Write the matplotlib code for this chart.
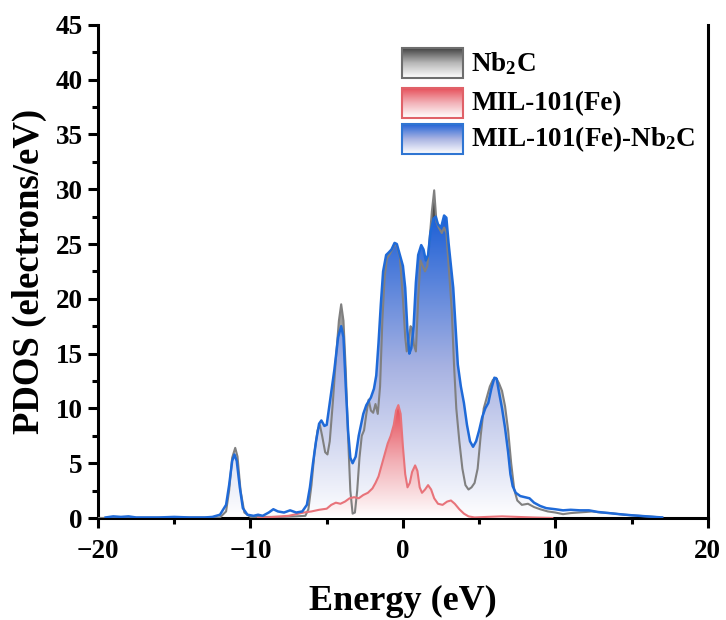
import numpy as np
import matplotlib
matplotlib.use('Agg')
import matplotlib.pyplot as plt
from matplotlib.colors import LinearSegmentedColormap
from matplotlib.patches import Polygon, Rectangle
from matplotlib.ticker import MultipleLocator

plt.rcParams['font.family'] = ['Liberation Serif', 'DejaVu Serif']
plt.rcParams['font.weight'] = 'bold'
plt.rcParams['mathtext.fontset'] = 'custom'
plt.rcParams['mathtext.rm'] = 'Liberation Serif:bold'
plt.rcParams['mathtext.default'] = 'rm'

# Nb2C
nb_x = [-20.0, -12.0, -11.6, -11.4, -11.2, -11.0, -10.85, -10.65, -10.4, -10.0, -8.0, -7.0, -6.4,
        -6.2, -6.0, -5.8, -5.6, -5.45, -5.3, -5.1, -4.95, -4.8, -4.6, -4.4, -4.2, -4.05, -3.9,
        -3.75, -3.6, -3.45, -3.3, -3.15, -3.0, -2.85, -2.7, -2.55, -2.4, -2.25, -2.1, -1.95,
        -1.8, -1.65, -1.5, -1.35, -1.2, -1.05, -0.9, -0.7, -0.55, -0.4, -0.2, 0.0, 0.15, 0.25,
        0.4, 0.5, 0.6, 0.72, 0.85, 1.0, 1.15, 1.3, 1.45, 1.6, 1.75, 1.9, 2.05, 2.2, 2.35, 2.55,
        2.7, 2.85, 3.0, 3.2, 3.35, 3.5, 3.7, 3.9, 4.1, 4.3, 4.5, 4.7, 4.9, 5.1, 5.3, 5.5, 5.7,
        5.9, 6.1, 6.3, 6.5, 6.7, 6.9, 7.1, 7.3, 7.5, 7.8, 8.2, 8.6, 9.0, 9.5, 10.0, 10.5, 11.0,
        11.5, 12.0, 12.4, 13.0, 13.6, 14.5, 15.5, 16.5, 17.0]
nb_y = [0.0, 0.05, 0.6, 2.5, 5.5, 6.4, 5.6, 2.5, 0.5, 0.1, 0.1, 0.15, 0.2,
        0.8, 3.0, 6.0, 8.0, 8.5, 7.5, 6.0, 5.8, 7.0, 10.5, 14.5, 18.0, 19.5, 18.0,
        13.5, 7.5, 2.5, 0.4, 0.5, 2.5, 5.5, 7.5, 8.0, 9.5, 10.8, 9.8, 9.6,
        10.4, 9.5, 12.0, 18.0, 22.0, 23.7, 24.0, 24.5, 25.0, 24.8, 23.8, 20.0, 16.5, 15.2,
        16.5, 17.5, 17.3, 15.8, 15.2, 20.0, 23.5, 23.0, 22.5, 23.0, 25.5, 28.0, 29.9, 27.0, 26.5, 26.0,
        26.5, 26.0, 23.0, 19.0, 14.0, 10.0, 7.0, 4.5, 3.0, 2.6, 2.8, 3.2, 4.5, 7.5, 10.0, 11.0, 12.0,
        12.6, 12.8, 12.3, 11.6, 10.2, 8.0, 5.0, 2.6, 1.6, 1.2, 1.3, 1.0, 0.8, 0.6, 0.5, 0.35, 0.45,
        0.5, 0.55, 0.6, 0.5, 0.45, 0.3, 0.2, 0.1, 0.05]

# MIL-101(Fe)
mil_x = [-9.5, -9.0, -8.5, -8.0, -7.5, -7.0, -6.5, -6.0, -5.5, -5.0, -4.7, -4.4, -4.1, -3.8, -3.5,
         -3.2, -2.9, -2.6, -2.3, -2.0, -1.8, -1.6, -1.4, -1.2, -1.0, -0.8, -0.6, -0.45, -0.3,
         -0.15, 0.0, 0.15, 0.3, 0.45, 0.6, 0.8, 0.95, 1.1, 1.25, 1.45, 1.65, 1.85, 2.05, 2.3,
         2.6, 2.9, 3.15, 3.4, 3.7, 4.0, 4.3, 4.7, 5.5, 6.5, 7.5, 8.5, 9.8]
mil_y = [0.0, 0.05, 0.1, 0.15, 0.2, 0.35, 0.5, 0.6, 0.75, 0.85, 1.2, 1.4, 1.3, 1.5, 1.8,
         1.9, 1.8, 2.1, 2.3, 2.7, 3.2, 3.8, 4.8, 5.8, 6.8, 7.5, 8.5, 9.8, 10.3,
         9.5, 6.5, 4.0, 2.8, 3.2, 4.2, 4.8, 4.3, 2.8, 2.3, 2.6, 3.0, 2.6, 1.8, 1.3,
         1.2, 1.5, 1.6, 1.3, 0.8, 0.4, 0.15, 0.05, 0.1, 0.15, 0.1, 0.05, 0.0]

# MIL-101(Fe)-Nb2C
hyb_x = [-19.5, -19.0, -18.5, -18.0, -17.5, -16.0, -15.0, -14.0, -13.0, -12.5, -12.0, -11.6, -11.4,
         -11.2, -11.05, -10.9, -10.7, -10.5, -10.2, -9.8, -9.5, -9.2, -8.8, -8.5, -8.2, -7.8,
         -7.4, -7.0, -6.6, -6.3, -6.1, -5.9, -5.7, -5.5, -5.35, -5.15, -5.0, -4.8, -4.5, -4.25,
         -4.05, -3.9, -3.75, -3.6, -3.45, -3.3, -3.1, -2.9, -2.6, -2.4, -2.1, -1.9, -1.75, -1.6,
         -1.45, -1.3, -1.1, -0.95, -0.75, -0.55, -0.4, -0.2, 0.0, 0.15, 0.3, 0.42, 0.55, 0.7,
         0.85, 1.0, 1.2, 1.35, 1.5, 1.65, 1.8, 2.0, 2.15, 2.3, 2.5, 2.7, 2.85, 3.0, 3.15, 3.3,
         3.45, 3.6, 3.8, 4.0, 4.2, 4.4, 4.6, 4.8, 5.0, 5.2, 5.4, 5.6, 5.8, 6.0, 6.15, 6.3, 6.5,
         6.7, 6.9, 7.05, 7.2, 7.4, 7.7, 8.0, 8.3, 8.6, 9.0, 9.4, 10.0, 10.5, 11.0, 11.6, 12.2,
         12.8, 13.5, 14.2, 15.0, 16.0, 17.0]
hyb_y = [0.05, 0.15, 0.1, 0.15, 0.05, 0.05, 0.1, 0.05, 0.05, 0.1, 0.3, 1.2, 3.0,
         5.2, 5.8, 5.2, 2.8, 0.9, 0.3, 0.2, 0.3, 0.2, 0.5, 0.8, 0.6, 0.5,
         0.7, 0.5, 0.6, 1.2, 2.8, 5.0, 7.0, 8.6, 8.9, 8.4, 8.5, 10.5, 13.5, 16.5,
         17.5, 16.5, 12.0, 8.0, 5.5, 5.0, 5.6, 7.5, 9.5, 10.3, 11.0, 11.8, 13.0, 16.0,
         19.5, 22.5, 24.0, 24.2, 24.5, 25.1, 25.0, 24.0, 23.0, 21.0, 17.0, 15.0, 15.5, 17.5,
         21.5, 24.0, 24.9, 24.5, 23.5, 24.0, 26.0, 27.3, 27.5, 26.8, 26.5, 27.6, 27.4, 25.0, 23.0, 21.0,
         17.5, 14.0, 12.0, 10.5, 8.5, 7.0, 6.5, 7.0, 8.0, 9.2, 10.0, 10.5, 11.8, 12.8, 12.7, 11.5, 10.0,
         8.2, 6.0, 4.0, 2.9, 2.3, 2.0, 1.9, 1.8, 1.4, 1.1, 0.9, 0.8, 0.7, 0.75, 0.7, 0.7,
         0.55, 0.45, 0.35, 0.25, 0.15, 0.05]

labels = [r'Nb$_2$C', 'MIL-101(Fe)', r'MIL-101(Fe)-Nb$_2$C']


def grad_fill(ax, x, y, colors, z):
    x = np.asarray(x)
    y = np.asarray(y)
    verts = np.vstack([np.column_stack([x, y]), [[x[-1], 0], [x[0], 0]]])
    patch = Polygon(verts, closed=True, facecolor='none', edgecolor='none')
    ax.add_patch(patch)
    cmap = LinearSegmentedColormap.from_list('g', colors)
    grad = np.linspace(0, 1, 256).reshape(-1, 1)
    im = ax.imshow(grad, cmap=cmap, origin='lower', aspect='auto',
                   extent=[x.min(), x.max(), 0, y.max()], zorder=z)
    im.set_clip_path(patch)


fig = plt.figure(figsize=(7.26, 6.2), dpi=100)
ax = fig.add_axes([0.135, 0.1645, 0.84, 0.7955])

gray_c = ['#ffffff', '#b5b5b5', '#3c3c3c']
red_c = ['#ffffff', '#f2b0b6', '#e64a55']
blue_c = ['#ffffff', '#a7b2e2', '#1c5fd6']

grad_fill(ax, nb_x, nb_y, gray_c, 1)
grad_fill(ax, hyb_x, hyb_y, blue_c, 2)
grad_fill(ax, mil_x, mil_y, red_c, 3)

ax.plot(nb_x, nb_y, color='#808080', lw=1.5, zorder=4)
ax.plot(mil_x, mil_y, color='#e8737a', lw=1.5, zorder=5)
ax.plot(hyb_x, hyb_y, color='#1f6ad8', lw=1.8, zorder=6)

# legend drawn by hand with gradient swatches
leg_y = [0.892, 0.811, 0.738]
edge = ['#6e6e6e', '#e06168', '#2f75d2']
for yy, cols, ec, lab in zip(leg_y, [gray_c, red_c, blue_c], edge, labels):
    cmap = LinearSegmentedColormap.from_list('l', cols)
    grad = np.linspace(0, 1, 64).reshape(-1, 1)
    ax.imshow(grad, cmap=cmap, origin='lower', aspect='auto',
              extent=[0.498, 0.598, yy, yy + 0.061], transform=ax.transAxes, zorder=7)
    ax.add_patch(Rectangle((0.498, yy), 0.1, 0.061, transform=ax.transAxes,
                           facecolor='none', edgecolor=ec, lw=1.5, zorder=8))
    ax.text(0.612, yy + 0.03, lab, transform=ax.transAxes, fontsize=19.5,
            fontweight='bold', va='center', ha='left', zorder=8)

ax.set_xlim(-20, 20)
ax.set_ylim(0, 45)
ax.xaxis.set_major_locator(MultipleLocator(10))
ax.xaxis.set_minor_locator(MultipleLocator(5))
ax.yaxis.set_major_locator(MultipleLocator(5))
ax.yaxis.set_minor_locator(MultipleLocator(2.5))

ax.spines['top'].set_visible(False)
for s in ['left', 'bottom', 'right']:
    ax.spines[s].set_linewidth(2.2)
ax.tick_params(which='major', direction='out', length=7, width=2.2, labelsize=19.5, pad=4)
ax.tick_params(axis='x', which='major', pad=8)
ax.tick_params(which='minor', direction='out', length=4, width=2.2)
ax.tick_params(top=False, right=False)

ax.set_xlabel('Energy (eV)', fontsize=26, fontweight='bold', labelpad=15)
ax.set_ylabel('PDOS (electrons/eV)', fontsize=26.5, fontweight='bold', labelpad=6)

fig.savefig('out.png', dpi=100)
